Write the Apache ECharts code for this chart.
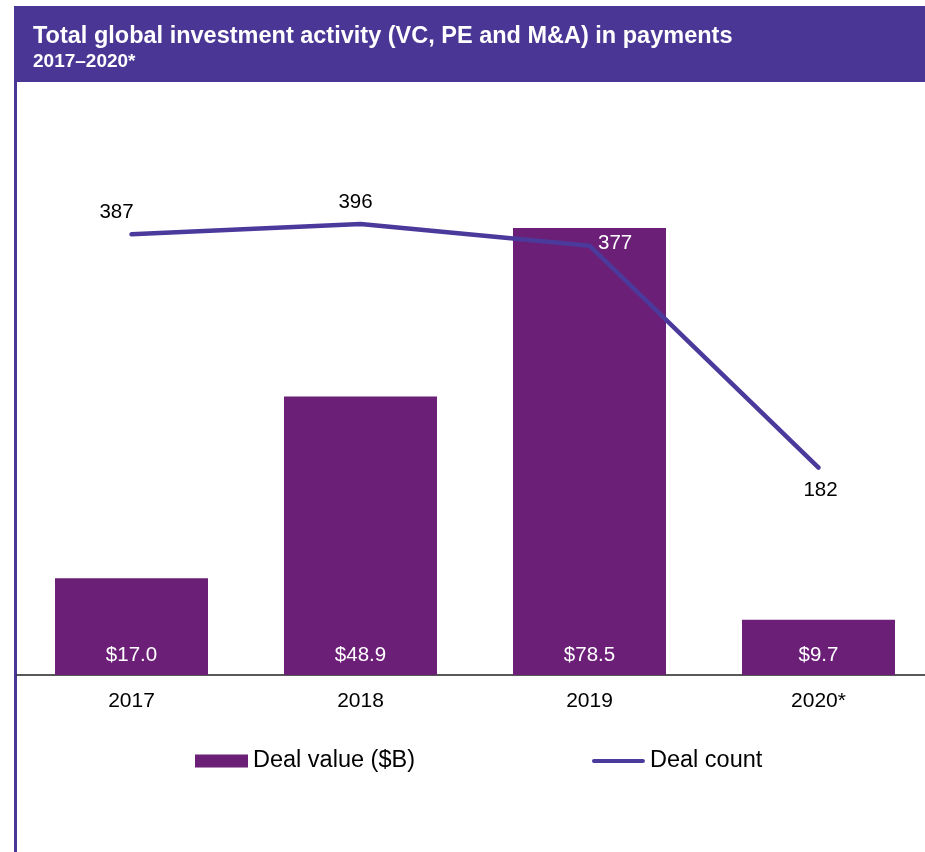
<!DOCTYPE html>
<html>
<head>
<meta charset="utf-8">
<script src="https://cdn.jsdelivr.net/npm/echarts@6/dist/echarts.min.js"></script>
<style>
	html, body { margin: 0; padding: 0; background: #fff; overflow: hidden; }
	#myChart { width: 933px; height: 852px; }
</style>
</head>
<body>
<div id="myChart"></div>
<script>
	// 数据
	var years = ['2017', '2018', '2019', '2020*'];
	var dealValue = [17.0, 48.9, 78.5, 9.7];
	var dealCount = [387, 396, 377, 182];

	var barColor = '#6b1f77';
	var lineColor = '#4b3a9b';
	var font = '"Liberation Sans", Arial, sans-serif';

	// label placement for the count line, one per point
	var countLabels = [
		{ position: 'top', offset: [-15, -6], color: '#000' },
		{ position: 'top', offset: [-5, -6], color: '#000' },
		{ position: 'right', distance: 8, offset: [0, -2], color: '#fff' },
		{ position: 'bottom', distance: 12, offset: [2, 0], color: '#000' }
	];

	var myChart = echarts.init(document.getElementById('myChart'));

	var option = {
		animation: false,
		title: {
			text: 'Total global investment activity (VC, PE and M&A) in payments',
			subtext: '2017\u20132020*',
			left: 28,
			top: 20,
			itemGap: 3,
			textStyle: {
				color: '#fff',
				fontFamily: font,
				fontWeight: 'bold',
				fontSize: 23.5
			},
			subtextStyle: {
				color: '#fff',
				fontFamily: font,
				fontWeight: 'bold',
				fontSize: 19
			}
		},
		graphic: [{
			type: 'rect',
			z: -1,
			shape: { x: 14, y: 6, width: 930, height: 76 },
			style: { fill: '#4a3795' }
		}, {
			type: 'line',
			shape: { x1: 15.5, y1: 82, x2: 15.5, y2: 852 },
			style: { stroke: '#4a3795', lineWidth: 3 }
		}],
		legend: {
			left: 190,
			top: 744,
			itemWidth: 53,
			itemHeight: 13,
			itemGap: 177,
			textStyle: {
				color: '#000',
				fontFamily: font,
				fontSize: 23.5
			},
			data: [
				{ name: 'Deal value ($B)', icon: 'rect' },
				{ name: 'Deal count', icon: 'path://M2,0 L51,0 A2,2 0 0 1 51,4 L2,4 A2,2 0 0 1 2,0 Z' }
			]
		},
		grid: {
			left: 17,
			right: 0,
			top: 105.6,
			bottom: 177
		},
		xAxis: {
			type: 'category',
			data: years,
			axisTick: { show: false },
			axisLine: { lineStyle: { color: '#222', width: 1.5 } },
			axisLabel: {
				color: '#000',
				fontFamily: font,
				fontSize: 21,
				margin: 16
			}
		},
		yAxis: [{
			type: 'value',
			min: 0,
			max: 100,
			show: false
		}, {
			type: 'value',
			min: 0,
			max: 500,
			show: false
		}],
		series: [{
			name: 'Deal value ($B)',
			type: 'bar',
			barWidth: 153,
			data: dealValue,
			itemStyle: { color: barColor },
			label: {
				show: true,
				position: 'insideBottom',
				distance: 9,
				color: '#fff',
				fontFamily: font,
				fontSize: 20.5,
				formatter: function(p) {
					return '$' + p.value.toFixed(1);
				}
			}
		}, {
			name: 'Deal count',
			type: 'line',
			yAxisIndex: 1,
			symbol: 'circle',
			symbolSize: 1,
			data: dealCount.map(function(v, i) {
				var l = countLabels[i];
				return {
					value: v,
					label: {
						show: true,
						position: l.position,
						distance: l.distance !== undefined ? l.distance : 5,
						offset: l.offset || [0, 0],
						color: l.color
					}
				};
			}),
			lineStyle: { color: lineColor, width: 4.5, cap: 'round' },
			itemStyle: { color: lineColor },
			label: {
				show: true,
				fontFamily: font,
				fontSize: 20.5
			}
		}]
	};

	myChart.setOption(option);
</script>
</body>
</html>
